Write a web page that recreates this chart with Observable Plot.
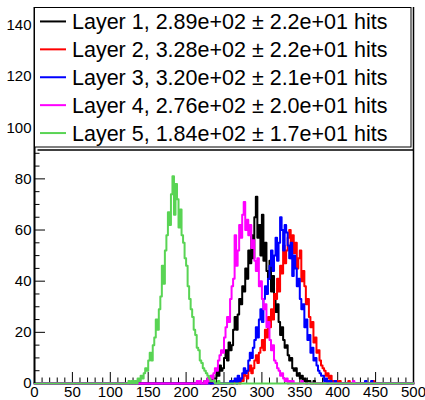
<!DOCTYPE html>
<html>
<head>
<meta charset="utf-8">
<script src="https://cdn.jsdelivr.net/npm/d3@7"></script>
<script src="https://cdn.jsdelivr.net/npm/@observablehq/plot@0.6"></script>
<style>
  html, body { margin: 0; padding: 0; background: #fff; }
  #chart svg { display: block; }
</style>
</head>
<body>
<div id="chart"></div>
<script>
// Hits per event in each detector layer, 2-hit bins, 0..500
const binWidth = 2;
const layerNames = ["Layer 1", "Layer 2", "Layer 3", "Layer 4", "Layer 5"];
const layerColors = ["#000000", "#ff0000", "#0000ff", "#ff00ff", "#59d454"];
const layerMeans = [289, 328, 320, 276, 184];
const layerRms = [22, 22, 21, 20, 17];

const layer1Start = 222;
const layer1Counts = [0,1,0,2,1,0,3,2,2,5, 3,7,5,6,10,13,9,16,13,15, 21,26,21,27,33,31,38,36,45,41, 52,47,58,49,65,73,57,62,50,66, 48,55,44,41,48,36,42,34,28,31, 24,19,22,17,14,15,11,9,10,6, 5,6,3,4,2,3,1,2,0,1, 1,0,0,1];

const layer2Start = 262;
const layer2Counts = [0,1,0,2,0,2,1,4,3,2, 5,7,4,6,9,11,8,12,14,17, 13,21,18,26,22,29,25,35,33,41, 36,46,43,54,47,52,57,60,49,58, 51,55,45,49,52,40,44,38,31,33, 26,22,24,16,18,12,13,9,7,6, 5,3,4,2,3,1,1,0,1,0, 1];

const layer3Start = 256;
const layer3Counts = [0,1,0,1,2,0,3,1,2,4, 6,4,5,9,12,10,14,17,22,18, 25,29,24,33,38,35,41,46,52,44, 50,57,48,55,65,60,52,62,59,54, 49,55,42,50,45,38,41,33,29,31, 22,25,17,19,12,14,9,10,7,5, 4,3,3,1,2,0,1,1,0,0, 1];

const layer4Start = 222;
const layer4Counts = [0,1,0,2,1,3,2,4,6,5, 9,11,13,12,18,22,26,24,33,38, 41,58,46,52,62,57,66,71,60,64, 58,62,53,56,48,44,49,38,40,33, 29,31,22,24,17,13,15,9,8,6, 5,3,4,2,1,2,0,1,0,1];

const layer5Start = 124;
const layer5Counts = [1,0,1,0,1,0,2,1,3,2, 4,6,5,9,12,9,15,18,25,21, 29,34,46,39,52,58,67,62,74,81, 66,78,72,61,68,58,55,49,46,38, 33,29,26,21,19,14,13,9,8,6, 5,4,3,2,1,1,1,0,0,1];

// isolated single hits far out in the tails
const layer1Strays = [];
const layer2Strays = [414, 446];
const layer3Strays = [436, 444];
const layer4Strays = [214, 218, 352, 420];
const layer5Strays = [];

const xMajor = d3.range(0, 501, 50);
const xMinor = d3.range(0, 501, 10).filter(v => v % 50 !== 0);
const yMajor = d3.range(0, 141, 20);
const yMinor = d3.range(0, 146, 5).filter(v => v % 20 !== 0);

const starts = [layer1Start, layer2Start, layer3Start, layer4Start, layer5Start];
const counts = [layer1Counts, layer2Counts, layer3Counts, layer4Counts, layer5Counts];
const strays = [layer1Strays, layer2Strays, layer3Strays, layer4Strays, layer5Strays];

function histogram(start, values, extra) {
  const n = 500 / binWidth;
  const h = new Array(n).fill(0);
  values.forEach((c, i) => { h[start / binWidth + i] = c; });
  extra.forEach(x => { h[Math.floor(x / binWidth)] += 1; });
  const pts = h.map((c, i) => ({x: i * binWidth, y: c}));
  pts.push({x: 500, y: h[n - 1]});
  return pts;
}

const series = layerNames.map((name, i) => ({
  name,
  color: layerColors[i],
  points: histogram(starts[i], counts[i], strays[i])
}));

// ROOT-style scientific notation, e.g. 2.89e+02
function sci(v, digits) {
  const [m, e] = v.toExponential(digits).split("e");
  const ex = +e;
  return m + "e" + (ex < 0 ? "-" : "+") + String(Math.abs(ex)).padStart(2, "0");
}
const legendLabels = layerNames.map((name, i) =>
  `${name}, ${sci(layerMeans[i], 2)} \u00b1 ${sci(layerRms[i], 1)} hits`);

const font = "Liberation Sans, Arial, Helvetica, sans-serif";

const plot = Plot.plot({
  width: 425,
  height: 400,
  marginLeft: 34,
  marginRight: 12,
  marginTop: 7,
  marginBottom: 17,
  x: {domain: [0, 500], label: null},
  y: {domain: [0, 147], label: null},
  style: {fontFamily: font, fontSize: "15px", color: "black", background: "white", overflow: "visible"},
  marks: [
    Plot.axisX(xMinor, {tickSize: -5.5, tickFormat: () => ""}),
    Plot.axisX(xMajor, {tickSize: -11, tickFormat: () => ""}),
    Plot.axisX(xMajor, {tickSize: 0, tickPadding: 3, fontSize: 15}),
    Plot.axisY(yMinor, {tickSize: -5.5, tickFormat: () => ""}),
    Plot.axisY(yMajor, {tickSize: -11, tickFormat: () => ""}),
    Plot.axisY(yMajor, {tickSize: 0, tickPadding: 3, fontSize: 15}),
    Plot.ruleX([500], {stroke: "black", strokeWidth: 1.5}),
    Plot.ruleY([0], {stroke: "black", strokeWidth: 1}),
    ...series.map(s => Plot.line(s.points, {
      x: "x", y: "y", curve: "step-after", stroke: s.color, strokeWidth: 2
    })),
    Plot.ruleX([0], {stroke: "black", strokeWidth: 2})
  ]
});

document.getElementById("chart").appendChild(plot);

// Legend box in the upper part of the frame
const svg = d3.select(plot);
const box = {x0: 34.5, y0: 7.5, x1: 411, y1: 147};
const g = svg.append("g")
  .attr("font-family", font)
  .attr("text-anchor", "start");
g.append("line")
  .attr("x1", box.x0 + 3).attr("x2", 413.5)
  .attr("y1", box.y1 + 3).attr("y2", box.y1 + 3)
  .attr("stroke", "black").attr("stroke-width", 1.5);
g.append("rect")
  .attr("x", box.x0).attr("y", box.y0)
  .attr("width", box.x1 - box.x0).attr("height", box.y1 - box.y0)
  .attr("fill", "white").attr("stroke", "black").attr("stroke-width", 1);
const rowStep = (box.y1 - box.y0) / 5;
legendLabels.forEach((label, i) => {
  const cy = box.y0 + rowStep * (i + 0.5);
  g.append("line")
    .attr("x1", 40).attr("x2", 66).attr("y1", cy).attr("y2", cy)
    .attr("stroke", layerColors[i]).attr("stroke-width", 2);
  g.append("text")
    .attr("x", 72).attr("y", cy).attr("dy", "0.36em")
    .attr("text-anchor", "start")
    .attr("font-size", 21.5).attr("fill", "black")
    .text(label);
});
</script>
</body>
</html>
